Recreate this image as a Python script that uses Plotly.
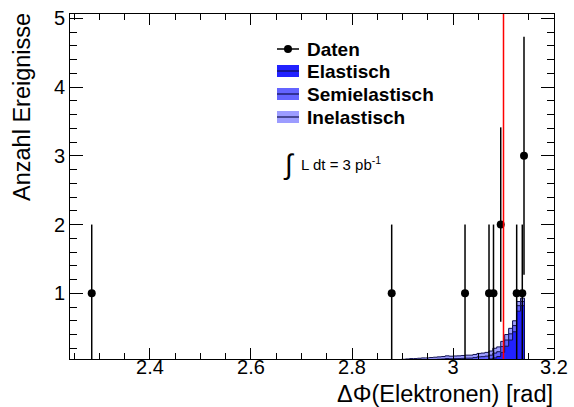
import plotly.graph_objects as go

# ---------------- data ----------------
bin_width = 0.007854  # pi/400
bin_lo = [2.8824, 2.8903, 2.8981, 2.9060, 2.9138, 2.9217, 2.9296, 2.9374, 2.9453,
          2.9531, 2.9610, 2.9688, 2.9767, 2.9845, 2.9924, 3.0002, 3.0081, 3.0160,
          3.0238, 3.0317, 3.0395, 3.0474, 3.0552, 3.0631, 3.0709, 3.0788, 3.0866,
          3.0945, 3.1023, 3.1102, 3.1180, 3.1259, 3.1337]
elastisch = [0.005, 0.005, 0.006, 0.007, 0.008, 0.008, 0.009, 0.010, 0.010, 0.011,
             0.012, 0.013, 0.014, 0.016, 0.015, 0.016, 0.017, 0.018, 0.020, 0.021,
             0.024, 0.030, 0.032, 0.036, 0.045, 0.060, 0.080, 0.140, 0.230, 0.320,
             0.440, 0.740, 0.820]
semielastisch = [0.010, 0.012, 0.014, 0.016, 0.018, 0.018, 0.020, 0.022, 0.022, 0.024,
                 0.026, 0.028, 0.030, 0.034, 0.032, 0.033, 0.033, 0.035, 0.036, 0.036,
                 0.040, 0.045, 0.046, 0.050, 0.055, 0.070, 0.070, 0.085, 0.090, 0.090,
                 0.090, 0.080, 0.060]
inelastisch = [0.015, 0.018, 0.020, 0.022, 0.024, 0.024, 0.026, 0.028, 0.028, 0.030,
               0.032, 0.034, 0.036, 0.040, 0.038, 0.039, 0.040, 0.042, 0.044, 0.043,
               0.046, 0.050, 0.052, 0.054, 0.060, 0.070, 0.070, 0.075, 0.080, 0.080,
               0.070, 0.060, 0.050]

data_x = [2.2846, 2.8786, 3.0238, 3.0713, 3.0802, 3.0945, 3.1261, 3.1372, 3.1406]
data_y = [1, 1, 1, 1, 1, 2, 1, 1, 3]
data_err = [1, 1, 1, 1, 1, 1.414, 1, 1, 1.732]

cut_value = 3.1

x_tickvals = [2.4, 2.6, 2.8, 3.0, 3.2]
x_ticktext = ["2.4", "2.6", "2.8", "3", "3.2"]
y_tickvals = [1, 2, 3, 4, 5]
y_ticktext = ["1", "2", "3", "4", "5"]

series_names = ["Elastisch", "Semielastisch", "Inelastisch"]
series_colors = ["#2222ff", "#6464ff", "#9c9cff"]
outline_color = "#101050"
FONT = "Liberation Sans"

# ---------------- figure ----------------
fig = go.Figure()

# cumulative stacks (Elastisch at bottom)
cum_e = list(elastisch)
cum_s = [a + b for a, b in zip(cum_e, semielastisch)]
cum_i = [a + b for a, b in zip(cum_s, inelastisch)]


def step_path(lo, vals, w):
    xs = [lo[0]]
    ys = [0]
    for x0, v in zip(lo, vals):
        xs.append(x0)
        ys.append(v)
    end = lo[-1] + w
    xs += [end, end]
    ys += [vals[-1], 0]
    return xs, ys


for vals, color in [(cum_i, series_colors[2]), (cum_s, series_colors[1]), (cum_e, series_colors[0])]:
    xs, ys = step_path(bin_lo, vals, bin_width)
    fig.add_trace(go.Scatter(x=xs, y=ys, mode="lines", line=dict(shape="hv", color=outline_color, width=1),
                             fill="tozeroy", fillcolor=color, hoverinfo="skip"))

fig.add_trace(go.Scatter(x=data_x, y=data_y, mode="markers",
                         marker=dict(color="black", size=8),
                         error_y=dict(type="data", array=data_err, color="black", thickness=1.5, width=0)))

# cut line
fig.add_shape(type="line", xref="x", yref="paper", x0=cut_value, x1=cut_value, y0=0, y1=1,
              line=dict(color="#ff0000", width=1.5))

# ---------------- manual legend ----------------
L, W, T, H = 70, 484, 14, 345


def px(x):
    return (x - L) / W


def py(y):
    return (T + H - y) / H


rows_y = [49, 71, 94, 117]
sym_x0, sym_x1, text_x = 277, 299, 305
# Daten
fig.add_shape(type="line", xref="paper", yref="paper", x0=px(sym_x0), x1=px(sym_x1),
              y0=py(rows_y[0]), y1=py(rows_y[0]), line=dict(color="black", width=1.5))
fig.add_trace(go.Scatter(x=[px((sym_x0 + sym_x1) / 2)], y=[py(rows_y[0])], xaxis="x2", yaxis="y2",
                         mode="markers", marker=dict(color="black", size=8), hoverinfo="skip"))
fig.add_annotation(x=px(text_x), y=py(rows_y[0]), xref="paper", yref="paper", text="<b>Daten</b>",
                   showarrow=False, xanchor="left", yanchor="middle", font=dict(size=19, family=FONT))
for name, color, ry in zip(series_names, series_colors, rows_y[1:]):
    fig.add_shape(type="rect", xref="paper", yref="paper", x0=px(sym_x0), x1=px(sym_x1),
                  y0=py(ry + 6), y1=py(ry - 6), fillcolor=color, line=dict(width=0))
    fig.add_shape(type="line", xref="paper", yref="paper", x0=px(sym_x0), x1=px(sym_x1),
                  y0=py(ry), y1=py(ry), line=dict(color=outline_color, width=1.2))
    fig.add_annotation(x=px(text_x), y=py(ry), xref="paper", yref="paper", text="<b>" + name + "</b>",
                       showarrow=False, xanchor="left", yanchor="middle", font=dict(size=19, family=FONT))

# luminosity text
fig.add_annotation(x=px(289), y=py(164), xref="paper", yref="paper", text="∫",
                   showarrow=False, xanchor="center", yanchor="middle", font=dict(size=28, family=FONT))
fig.add_annotation(x=px(299), y=py(163), xref="paper", yref="paper", text="L dt = 3 pb<sup>-1</sup>",
                   showarrow=False, xanchor="left", yanchor="middle", font=dict(size=15, family=FONT))

# axis titles
fig.add_annotation(x=px(22), y=py(11), xref="paper", yref="paper", text="Anzahl Ereignisse",
                   textangle=-90, showarrow=False, xanchor="center", yanchor="top",
                   font=dict(size=23.5, family=FONT))
fig.add_annotation(x=px(555), y=py(394), xref="paper", yref="paper", text="ΔΦ(Elektronen) [rad]",
                   showarrow=False, xanchor="right", yanchor="middle", font=dict(size=23.5, family=FONT))

fig.update_layout(
    width=574, height=407, margin=dict(l=L, r=574 - L - W, t=T, b=407 - T - H, autoexpand=False),
    plot_bgcolor="white", paper_bgcolor="white", showlegend=False,
    font=dict(family=FONT, color="black"),
    xaxis=dict(range=[2.2416, 3.2], tickmode="array", tickvals=x_tickvals, ticktext=x_ticktext,
               ticks="inside", ticklen=11, tickwidth=1, tickcolor="black", automargin=False,
               ticklabelstandoff=-10,
               showline=True, linecolor="black", linewidth=1, mirror="ticks",
               showgrid=False, zeroline=False, tickfont=dict(size=20, family=FONT),
               minor=dict(ticks="inside", ticklen=6, tickwidth=1, tickcolor="black", dtick=0.05, tick0=0,
                          showgrid=False)),
    yaxis=dict(range=[0.044, 5.063], tickmode="array", tickvals=y_tickvals, ticktext=y_ticktext,
               ticks="inside", ticklen=13, tickwidth=1, tickcolor="black", automargin=False,
               showline=True, linecolor="black", linewidth=1, mirror="ticks",
               showgrid=False, zeroline=False, tickfont=dict(size=20, family=FONT),
               minor=dict(ticks="inside", ticklen=7, tickwidth=1, tickcolor="black", dtick=0.2, tick0=0,
                          showgrid=False)),
    xaxis2=dict(range=[0, 1], domain=[0, 1], anchor="y2", overlaying="x", visible=False,
                showticklabels=False),
    yaxis2=dict(range=[0, 1], domain=[0, 1], anchor="x2", overlaying="y", visible=False,
                showticklabels=False),
)

fig.write_html("out.html")
